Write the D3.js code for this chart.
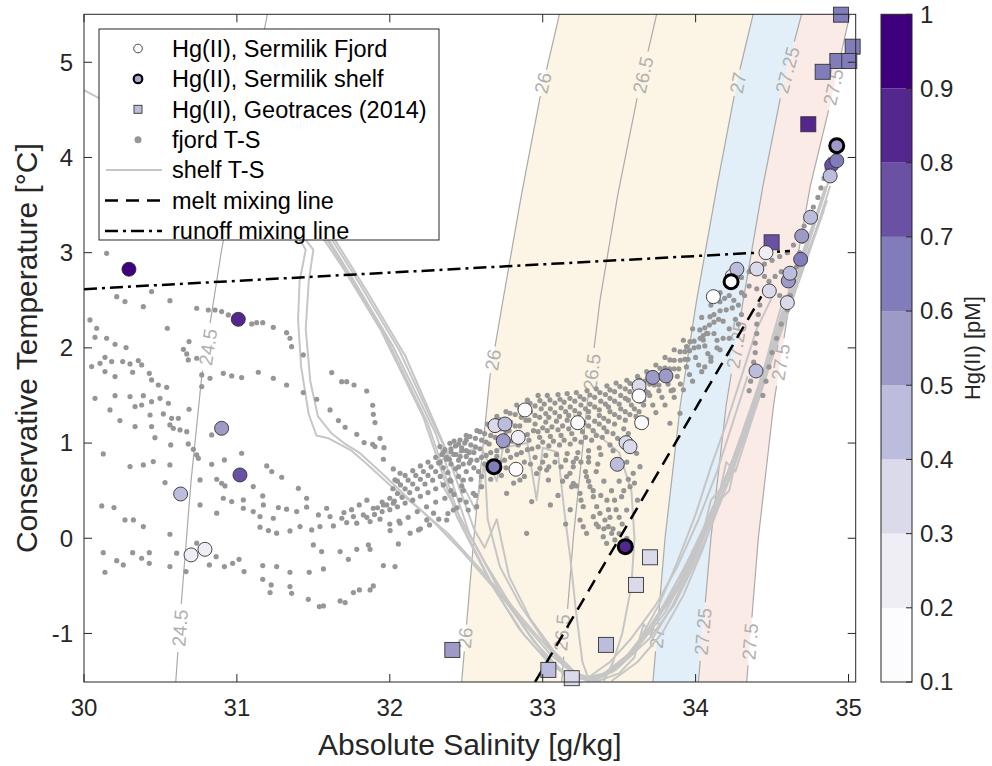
<!DOCTYPE html>
<html>
<head>
<meta charset="utf-8">
<script src="https://cdn.jsdelivr.net/npm/d3@7"></script>
<style>
  body { margin: 0; background: #fff; }
  svg { font-family: Helvetica, "Liberation Sans", Arial, sans-serif; }
</style>
</head>
<body>
<svg id="chart" width="992" height="766"></svg>
<script>
// ---- axis ticks ----
const xTicks = [30, 31, 32, 33, 34, 35];
const yTicks = [-1, 0, 1, 2, 3, 4, 5];
const cTicks = [0.1, 0.2, 0.3, 0.4, 0.5, 0.6, 0.7, 0.8, 0.9, 1];

// ---- sigma0 isopycnals, [S, T] ----
const iso245 = [[30.60,-1.51],[30.64,-0.61],[30.70,0.60],[30.77,1.70],[30.90,3.03],[31.05,4.30],[31.20,5.51]];
const iso26 = [[32.47,-1.51],[32.555,0.10],[32.655,1.70],[32.74,2.50],[32.86,3.60],[32.98,4.61],[33.11,5.51]];
const iso265 = [[33.124,-1.51],[33.20,0.00],[33.29,1.40],[33.375,2.505],[33.49,3.60],[33.615,4.606],[33.746,5.51]];
const iso27 = [[33.721,-1.51],[33.80,0.00],[33.90,1.40],[34.007,2.505],[34.14,3.70],[34.269,4.785],[34.377,5.51]];
const iso2725 = [[34.018,-1.51],[34.10,0.00],[34.20,1.40],[34.312,2.505],[34.44,3.70],[34.574,4.785],[34.694,5.51]];
const iso275 = [[34.334,-1.51],[34.41,0.00],[34.51,1.40],[34.617,2.505],[34.75,3.70],[34.866,4.47],[35.01,5.51]];

const isoNames = ['24.5', '26', '26.5', '27', '27.25', '27.5'];
const isoLines = [iso245, iso26, iso265, iso27, iso2725, iso275];
// label anchor points (S, T) per isopycnal
const isoLabels = [
  [[30.811, 2.009], [30.628, -0.943]],
  [[33.002, 4.783], [32.675, 1.873], [32.492, -1.047]],
  [[33.656, 4.867], [33.322, 1.747], [33.126, -0.990]],
  [[34.277, 4.783], [33.748, -1.047]],
  [[34.600, 4.919], [34.268, 2.030], [34.048, -0.980]],
  [[34.901, 4.741], [34.556, 1.852], [34.356, -1.085]]
];

// ---- mixing lines ----
const meltLine = [[32.95, -1.51], [34.43, 2.54]];
const runoffLine = [[30.0, 2.617], [34.617, 3.018]];

// ---- shelf CTD profiles [S, T] ----
const shelfA = [[29.95,4.75],[30.30,4.45],[30.70,4.10],[31.10,3.70],[31.35,3.30],[31.45,3.03],[31.41,2.70],[31.40,2.30],[31.42,1.80],[31.47,1.30],[31.52,1.08],[31.60,1.05],[31.75,0.92],[31.85,0.78],[32.00,0.56],[32.20,0.30],[32.38,0.05],[32.55,-0.25],[32.75,-0.62],[32.95,-1.00],[33.12,-1.30],[33.25,-1.47],[33.40,-1.45],[33.55,-1.25],[33.72,-0.90],[33.90,-0.40],[34.08,0.20],[34.25,0.85],[34.40,1.50],[34.53,2.05],[34.64,2.60],[34.76,3.10],[34.88,3.70]];
const shelfB = [[30.10,4.62],[30.50,4.30],[30.95,3.88],[31.30,3.45],[31.50,3.03],[31.47,2.70],[31.45,2.20],[31.48,1.65],[31.53,1.28],[31.62,1.10],[31.70,1.00],[31.80,0.90],[31.95,0.68],[32.12,0.42],[32.30,0.15],[32.48,-0.15],[32.68,-0.52],[32.88,-0.90],[33.05,-1.22],[33.20,-1.42],[33.33,-1.50],[33.48,-1.38],[33.63,-1.10],[33.80,-0.68],[33.98,-0.15],[34.15,0.45],[34.32,1.10],[34.47,1.75],[34.60,2.35],[34.72,2.90],[34.84,3.45]];
const shelfC = [[30.95,4.30],[31.35,3.66],[31.69,2.85],[31.94,2.19],[32.22,1.27],[32.44,0.22],[32.66,-0.47],[32.85,-0.96],[33.05,-1.33],[33.21,-1.47],[33.38,-1.44],[33.54,-1.28],[33.70,-0.96],[33.87,-0.54],[34.03,-0.02],[34.19,0.61],[34.32,1.14],[34.45,1.77],[34.59,2.40],[34.72,3.03],[34.85,3.66]];
const shelfD = [[31.02,4.25],[31.40,3.62],[31.72,2.80],[31.98,2.10],[32.25,1.20],[32.47,0.15],[32.69,-0.55],[32.88,-1.02],[33.08,-1.36],[33.24,-1.48],[33.40,-1.42],[33.56,-1.22],[33.73,-0.88],[33.90,-0.45],[34.06,0.08],[34.22,0.70],[34.35,1.25],[34.48,1.85],[34.60,2.45],[34.72,3.05],[34.85,3.70]];
const shelfE = [[31.08,4.32],[31.44,3.55],[31.76,2.72],[32.02,2.02],[32.30,1.10],[32.52,0.05],[32.74,-0.62],[32.94,-1.08],[33.13,-1.40],[33.30,-1.50],[33.46,-1.40],[33.62,-1.15],[33.80,-0.78],[33.96,-0.30],[34.12,0.25],[34.27,0.85],[34.40,1.40],[34.52,2.00],[34.63,2.60],[34.75,3.15],[34.88,3.80]];
const shelfF = [[31.12,4.20],[31.48,3.50],[31.80,2.68],[32.06,1.98],[32.33,1.05],[32.48,0.55],[32.56,0.30],[32.62,0.80],[32.64,0.20],[32.72,-0.30],[32.86,-0.72],[33.02,-1.10],[33.18,-1.40],[33.34,-1.48],[33.52,-1.30],[33.70,-0.95],[33.88,-0.55],[34.04,0.00],[34.10,0.40],[34.18,0.55],[34.28,1.00],[34.40,1.55],[34.52,2.15],[34.64,2.75],[34.78,3.35]];
const shelfG = [[31.15,4.10],[31.52,3.45],[31.84,2.62],[32.10,1.92],[32.35,1.00],[32.55,0.10],[32.62,-0.10],[32.70,0.20],[32.78,-0.40],[32.92,-0.85],[33.08,-1.20],[33.22,-1.42],[33.36,-1.50],[33.50,-1.42],[33.60,-1.25],[33.66,-0.90],[33.72,-1.05],[33.85,-0.70],[34.00,-0.20],[34.14,0.35],[34.20,0.80],[34.26,0.70],[34.36,1.20],[34.48,1.80],[34.60,2.40],[34.72,2.95],[34.86,3.55]];
const shelfH = [[32.30,0.80],[32.45,0.90],[32.60,0.95],[32.70,0.60],[32.74,0.95],[32.90,1.00],[32.96,0.40],[33.00,0.95],[33.10,0.90],[33.14,0.30],[33.18,-0.20],[33.22,-0.80],[33.26,-1.30],[33.30,-1.48],[33.40,-1.45],[33.52,-1.30],[33.64,-1.05],[33.76,-0.70],[33.88,-0.25],[34.00,0.25],[34.10,0.75],[34.20,1.20],[34.30,1.70],[34.40,2.20],[34.52,2.60]];
const shelfI = [[33.20,1.30],[33.35,1.10],[33.50,0.90],[33.58,0.50],[33.60,0.00],[33.58,-0.50],[33.52,-1.00],[33.46,-1.30],[33.40,-1.50]];
const shelfJ = [[33.45,-1.50],[33.62,-1.30],[33.78,-1.00],[33.92,-0.60],[34.05,-0.10],[34.16,0.40],[34.22,0.50],[34.28,0.95],[34.38,1.40],[34.46,1.80],[34.56,2.30],[34.66,2.80]];
const shelfK = [[33.30,-1.50],[33.50,-1.35],[33.70,-1.05],[33.86,-0.70],[34.00,-0.25],[34.12,0.20],[34.24,0.70],[34.34,1.15],[34.42,1.60],[34.50,2.10],[34.58,2.55]];
const shelfL = [[32.33,0.60],[32.40,0.40],[32.50,0.10],[32.62,-0.25],[32.76,-0.62],[32.90,-0.98],[33.04,-1.28],[33.16,-1.46],[33.30,-1.46],[33.44,-1.30],[33.58,-1.05],[33.74,-0.70],[33.88,-0.30],[34.02,0.20],[34.14,0.70],[34.24,1.20],[34.34,1.70]];
const shelfProfiles = [shelfA, shelfB, shelfC, shelfD, shelfE, shelfF, shelfG, shelfH, shelfI, shelfJ, shelfK, shelfL];

// ---- fjord CTD points [S, T] ----
const fjordLeft = [[30.148,2.993],[30.214,2.538],[30.268,2.486],[30.388,2.433],[30.442,2.591],[30.562,2.496],[30.737,2.416],[30.813,2.398],[30.857,2.398],[30.900,2.381],[30.944,2.346],[31.097,2.251],[31.129,2.265],[31.169,2.265],[31.238,2.216],[31.325,2.160],[31.347,2.101],[31.358,2.013],[31.434,1.926],[30.039,2.293],[30.083,2.206],[30.072,2.111],[30.148,2.101],[30.203,2.038],[30.275,2.003],[30.545,2.206],[30.687,2.066],[30.650,1.985],[30.672,1.936],[30.682,1.873],[30.737,1.891],[30.137,1.901],[30.105,1.838],[30.181,1.856],[30.253,1.856],[30.301,1.831],[30.355,1.866],[30.377,1.821],[30.050,1.803],[30.137,1.751],[30.203,1.698],[30.318,1.744],[30.427,1.733],[30.442,1.663],[30.486,1.610],[30.541,1.586],[30.770,1.716],[30.824,1.681],[30.770,1.593],[30.911,1.733],[30.966,1.705],[31.031,1.688],[31.140,1.744],[31.238,1.681],[31.325,1.610],[31.434,1.530],[31.522,1.460],[31.620,1.740],[31.685,1.645],[31.718,1.645],[31.766,1.610],[31.849,1.547],[31.888,1.397],[31.892,1.302],[31.903,1.215],[31.936,1.050],[31.962,0.952],[31.958,0.830],[32.023,0.728],[32.034,0.613],[32.067,0.683],
  [30.072,1.470],[30.170,1.348],[30.203,1.498],[30.301,1.488],[30.388,1.498],[30.442,1.435],[30.497,1.470],[30.552,1.418],[30.334,1.383],[30.377,1.400],[30.432,1.295],[30.519,1.306],[30.573,1.260],[30.617,1.260],[30.235,1.236],[30.334,1.173],[30.442,1.173],[30.464,1.057],[30.562,1.190],[30.584,1.155],[30.628,1.138],[30.672,1.120],[30.687,1.355],[30.567,0.980],[30.682,0.991],[30.715,0.935],[30.737,0.875],[30.748,0.840],[30.126,0.886],[30.301,0.753],[30.388,0.770],[30.453,0.805],[30.562,0.770],[30.530,0.585],[30.759,0.613],[30.835,0.777],[30.918,0.823],[31.031,0.893],[30.868,0.620],[30.900,0.578],[30.922,0.550],[30.911,0.420],[30.966,0.385],[31.042,0.403],[31.107,0.543],[31.169,0.445],[31.042,0.315],[31.107,0.280],[31.151,0.228],[31.173,0.350],[31.238,0.210],[31.271,0.322],[31.325,0.305],[31.391,0.280],[31.402,0.525],[31.456,0.420],[31.456,0.326],[31.533,0.245],[31.587,0.315],[31.609,0.228],[31.686,0.210],[31.762,0.228],[31.827,0.245],[31.892,0.315],[31.958,0.350],[32.023,0.368],[31.195,0.760],[31.228,0.700],[31.293,0.641],
  [31.151,0.116],[31.206,0.081],[31.260,0.053],[31.347,0.077],[31.413,0.123],[31.489,0.088],[31.543,0.123],[31.631,0.130],[31.718,0.165],[31.784,0.158],[31.871,0.175],[31.936,0.200],[32.002,0.081],[32.067,0.158],[32.133,0.053],[32.188,0.088],[32.242,0.193],[32.286,0.263],[30.868,0.263],[30.759,0.350],[30.562,0.042],[30.268,0.193],[30.323,0.193],[30.388,0.123],[30.116,0.340],[30.196,0.322],[30.126,-0.151],[30.214,-0.235],[30.257,-0.280],[30.318,-0.151],[30.377,-0.210],[30.427,-0.151],[30.427,-0.263],[30.137,-0.357],[30.562,-0.298],[30.606,-0.157],[30.667,-0.350],[30.737,-0.052],[30.820,-0.280],[30.864,-0.193],[30.918,-0.298],[30.972,-0.263],[31.014,-0.221],[31.047,-0.350],[31.169,-0.287],[31.260,-0.298],[31.347,-0.357],[31.473,-0.357],[31.566,-0.322],[31.169,-0.431],[31.224,-0.490],[31.217,-0.571],[31.347,-0.508],[31.358,-0.578],[31.467,-0.641],[31.539,-0.718],[31.566,-0.711],[31.675,-0.658],[31.708,-0.676],[31.762,-0.571],[31.801,-0.543],[31.871,-0.543],[31.892,-0.501],[31.500,-0.070],[31.554,-0.140],[31.675,-0.140],[31.729,-0.221],[31.784,-0.116],[31.860,-0.070],[31.871,-0.116],[31.958,-0.287],[32.034,-0.298],[32.056,-0.060],[30.835,1.085],[31.609,1.348],[31.664,1.236],[31.708,1.166],[31.784,1.092],[31.832,1.005],[31.888,0.987],[31.903,0.963]];
const fjordBand = [[32.328,0.963],[32.393,0.998],[32.459,1.032],[32.524,1.068],[32.590,1.120],[32.655,1.173],[32.720,1.243],[32.786,1.313],[32.851,1.365],[32.917,1.418],[32.982,1.446],[33.047,1.453],[33.113,1.460],[33.178,1.470],[33.244,1.488],[33.309,1.505],[33.374,1.530],[33.440,1.558],[33.505,1.593],[33.571,1.628],[33.636,1.663],[33.701,1.715],[33.767,1.785],[33.832,1.873],[33.898,1.960],[33.963,2.065],[34.028,2.188],[34.094,2.328],[34.159,2.485],[34.225,2.643],
  [32.34,0.88],[32.40,0.91],[32.47,0.95],[32.53,0.98],[32.60,1.03],[32.66,1.08],[32.73,1.15],[32.79,1.22],[32.86,1.27],[32.92,1.33],[32.99,1.36],[33.05,1.36],[33.12,1.37],[33.18,1.38],[33.25,1.40],[33.31,1.41],[33.38,1.44],[33.44,1.47],[33.51,1.50],[33.57,1.54],[33.64,1.57],[33.70,1.62],[33.77,1.70],[33.83,1.78],[33.90,1.87],[33.96,1.97],[34.03,2.10],[34.09,2.24],[34.16,2.39],[34.22,2.55],
  [32.33,0.80],[32.39,0.83],[32.46,0.86],[32.52,0.90],[32.59,0.94],[32.65,0.99],[32.72,1.06],[32.78,1.13],[32.85,1.18],[32.91,1.24],[32.98,1.27],[33.04,1.27],[33.11,1.28],[33.17,1.29],[33.24,1.31],[33.30,1.33],[33.37,1.35],[33.43,1.38],[33.50,1.41],[33.56,1.45],[33.63,1.48],[33.69,1.53],[33.76,1.61],[33.82,1.69],[33.89,1.78],[33.95,1.88],[34.02,2.01],[34.08,2.15],[34.15,2.30],
  [32.60,0.85],[32.66,0.90],[32.73,0.96],[32.80,1.02],[32.87,1.08],[32.94,1.13],[33.00,1.16],[33.06,1.17],[33.13,1.18],[33.20,1.19],[33.27,1.21],[33.34,1.23],[33.40,1.26],[33.47,1.30],[33.54,1.33],[33.60,1.36],[33.66,1.40],
  [32.62,0.78],[32.70,0.86],[32.77,0.92],[32.84,0.98],[32.91,1.03],[32.98,1.06],[33.05,1.07],[33.12,1.08],[33.19,1.10],[33.26,1.12],[33.33,1.13],[33.40,1.16],[33.47,1.20],[33.54,1.24],[33.61,1.28],
  [32.75,0.82],[32.83,0.88],[32.90,0.93],[32.97,0.96],[33.04,0.97],[33.11,0.98],[33.18,0.99],[33.25,1.01],[33.32,1.03],[33.39,1.06],[33.46,1.10],[33.53,1.15],
  [32.80,0.75],[32.88,0.80],[32.95,0.85],[33.02,0.87],[33.09,0.88],[33.16,0.89],[33.23,0.90],[33.30,0.92],[33.37,0.95],[33.44,0.98],
  [32.851,0.612],[32.928,0.385],[32.982,0.735],[33.037,0.612],[33.026,0.717],[33.178,0.682],[33.189,0.542],[32.895,0.052],[33.244,0.192],[33.265,0.122],[33.287,0.052],[32.764,0.472],[32.600,0.542],[32.568,0.332],[32.513,0.297],[32.459,0.402],[32.415,0.297],[32.372,0.192],[32.393,0.612],[32.481,0.612],[32.546,0.472],
  [31.85,0.22],[31.90,0.25],[31.95,0.28],[32.00,0.30],[32.05,0.33],[32.10,0.37],[32.15,0.40],[32.20,0.44],[32.25,0.48],[32.30,0.52],[32.35,0.56],[32.40,0.60],[32.45,0.65],[32.50,0.70],[32.55,0.74],
  [31.95,0.38],[32.00,0.42],[32.05,0.47],[32.10,0.52],[32.15,0.57],[32.20,0.62],[32.25,0.66],[32.30,0.70],[32.35,0.74],[32.40,0.78],[32.45,0.82],[32.50,0.86],[32.55,0.90],
  [32.05,0.60],[32.10,0.66],[32.15,0.71],[32.20,0.76],[32.25,0.80],[32.30,0.85],[32.35,0.90],[32.40,0.94],[32.45,0.99],[32.50,1.03],
  [32.00,0.15],[32.06,0.18],[32.12,0.22],[32.18,0.28],[32.24,0.33],[32.30,0.38],[32.36,0.42],[32.42,0.46],[32.48,0.50],
  [32.20,0.10],[32.26,0.14],[32.32,0.20],[32.38,0.26],[32.44,0.32],[32.50,0.38],[32.56,0.45],[31.80,0.35],[31.85,0.40],[31.75,0.30],[31.70,0.27]];
const fjordBand2 = [[32.36,0.93],[32.43,0.97],[32.49,1.00],[32.56,1.05],[32.62,1.10],[32.69,1.17],[32.75,1.24],[32.82,1.30],[32.88,1.35],[32.95,1.39],[33.01,1.41],[33.08,1.42],[33.14,1.43],[33.21,1.44],[33.27,1.46],[33.34,1.48],[33.41,1.51],[33.47,1.54],[33.54,1.57],[33.60,1.61],[33.67,1.65],[33.73,1.71],[33.80,1.79],[33.86,1.87],[33.93,1.96],[33.99,2.07],[34.06,2.21],[34.12,2.35],[34.19,2.52],
  [32.37,0.85],[32.43,0.88],[32.50,0.92],[32.56,0.96],[32.63,1.01],[32.69,1.06],[32.76,1.12],[32.82,1.18],[32.89,1.24],[32.95,1.29],[33.02,1.31],[33.08,1.32],[33.15,1.33],[33.21,1.34],[33.28,1.36],[33.34,1.38],[33.41,1.41],[33.47,1.44],[33.54,1.47],[33.60,1.51],[33.67,1.55],[33.73,1.61],[33.80,1.69],[33.86,1.78],[33.93,1.88],[33.99,2.00],[34.05,2.13],[34.12,2.27],
  [32.57,0.82],[32.63,0.87],[32.70,0.92],[32.77,0.98],[32.84,1.04],[32.90,1.09],[32.97,1.12],[33.03,1.13],[33.10,1.14],[33.17,1.15],[33.23,1.17],[33.30,1.18],[33.37,1.20],[33.43,1.23],[33.50,1.27],[33.57,1.30],[33.63,1.33],
  [32.68,0.70],[32.76,0.74],[32.84,0.72],[32.92,0.78],[33.00,0.80],[33.08,0.80],[33.15,0.82],[33.22,0.84],[33.30,0.80],[33.38,0.88],[33.46,0.92],
  [33.70,1.50],[33.76,1.55],[33.82,1.62],[33.88,1.70],[33.94,1.80],[34.00,1.90],[34.06,2.02],[34.12,2.15],[34.18,2.28],[34.24,2.42],[34.30,2.58],[33.66,1.45],[33.72,1.40],[33.78,1.48],[33.84,1.55],[33.90,1.62],[33.96,1.72],[34.02,1.82],[34.08,1.94],[34.14,2.08],
  [31.92,0.32],[31.98,0.35],[32.03,0.39],[32.08,0.43],[32.13,0.48],[32.18,0.52],[32.23,0.57],[32.28,0.61],[32.33,0.65],[32.38,0.69],[32.43,0.73],[32.48,0.78],[32.53,0.82],
  [32.02,0.52],[32.07,0.56],[32.12,0.61],[32.17,0.66],[32.22,0.70],[32.27,0.75],[32.32,0.79],[32.37,0.83],[32.42,0.88],[32.47,0.92]];
const fjordBand3 = [[32.42,1.02],[32.50,1.08],[32.57,1.13],[32.64,1.20],[32.70,1.28],[32.76,1.33],[32.83,1.40],[32.90,1.45],[32.97,1.50],[33.03,1.50],[33.10,1.51],[33.16,1.52],[33.22,1.53],[33.29,1.55],[33.35,1.57],[33.42,1.60],[33.48,1.63],[33.55,1.66],[33.62,1.70],[33.68,1.75],[33.74,1.82],[33.80,1.90],[33.86,1.98],[33.92,2.08],[33.98,2.20],[34.04,2.32],[34.10,2.45],[34.16,2.58],[34.20,2.70],
  [32.45,0.75],[32.52,0.79],[32.58,0.70],[32.65,0.72],[32.72,0.80],[32.79,0.85],[32.86,0.90],[32.93,0.94],[33.00,1.01],[33.07,1.02],[33.14,1.03],[33.21,1.04],[33.28,1.06],[33.35,1.08],[33.42,1.12],[33.49,1.05],[33.56,1.10],[33.62,1.18],[33.68,1.25],[33.74,1.32],[33.80,1.40],[33.86,1.48],[33.92,1.56],[33.98,1.65],[34.04,1.75],[34.10,1.86],[34.16,1.98],[34.22,2.10],[34.28,2.25],
  [32.95,1.20],[33.02,1.22],[33.09,1.23],[33.16,1.24],[33.23,1.25],[33.30,1.27],[33.37,1.29],[33.44,1.33],[33.51,1.36],[33.58,1.40],[33.64,1.44],
  [32.40,0.50],[32.47,0.55],[32.53,0.62],[32.60,0.65],[32.66,0.62],[32.73,0.66],[32.81,0.58],[32.88,0.65],[32.96,0.68],[33.04,0.75],[33.12,0.75],[33.20,0.80],[33.28,0.70],[33.36,0.78],
  [33.13,0.60],[33.10,0.45],[33.05,0.35],[33.22,0.55],[33.25,0.40],[33.30,0.60],[33.33,0.50],[33.18,0.30],[33.15,0.15],[33.35,0.15],[33.40,0.10],[33.43,0.30],[33.47,0.40],[33.53,0.50],[33.56,0.62],[33.60,0.58],[33.62,0.40],[33.50,0.22],[33.46,0.10],[33.52,-0.05],[33.55,0.00]];
const fjordLobe = [[33.287,0.648],[33.309,0.542],[33.331,0.437],[33.353,0.332],[33.374,0.262],[33.407,0.192],[33.429,0.122],[33.451,0.052],[33.472,-0.018],[33.418,-0.053],[33.396,0.017],[33.364,0.122],[33.331,0.227],[33.265,0.332],[33.244,0.472],[33.200,0.577],[33.156,0.648],[33.516,0.437],[33.549,0.297],[33.571,0.542],[33.592,0.682],[33.636,0.752],[33.614,0.892],[33.35,0.70],[33.40,0.60],[33.45,0.50],[33.50,0.60],[33.42,0.40],[33.48,0.30],[33.52,0.15],[33.50,0.05],[33.38,0.45],[33.44,0.22],[33.55,0.80],[33.58,0.95],[33.30,0.85],[33.25,0.80],[33.20,0.75]];
const fjordRight = [[34.25,2.68],[34.30,2.74],[34.35,2.80],[34.40,2.85],[34.45,2.88],[34.50,2.92],[34.55,2.96],[34.60,3.00],[34.64,3.08],[34.68,3.18],[34.71,3.28],[34.74,3.38],[34.77,3.48],[34.80,3.58],[34.82,3.68],[34.84,3.78],[34.86,3.88],[34.88,3.98],
  [34.60,2.40],[34.62,2.55],[34.64,2.70],[34.66,2.85],[34.68,3.00],[34.70,3.12],[34.56,2.25],[34.53,2.10],[34.50,1.95],[34.48,1.80],[34.46,1.65],[34.44,1.50],
  [34.42,2.45],[34.41,2.35],[34.40,2.25],[34.40,2.15],[34.39,2.05],[34.39,1.95],[34.38,1.85],[34.37,1.75],[34.36,1.65],[34.35,1.55],
  [34.35,2.65],[34.40,2.62],[34.45,2.60],[34.50,2.58],[34.55,2.55],[34.48,2.70],[34.52,2.75],[34.56,2.80],[34.45,2.75],
  [34.20,2.40],[34.25,2.50],[34.28,2.45],[34.32,2.55],[34.30,2.35],[34.26,2.30],[34.22,2.20],[34.18,2.10],[34.14,2.00],[34.10,1.90],[34.06,1.80],
  [33.854,1.558],[33.832,1.208],[33.898,1.313],[33.941,2.013],[34.050,2.083],[34.072,2.153]];

// ---- Hg(II) samples [S, T, Hg pM] ----
const hgFjord = [[30.294,2.826,0.95],[31.009,2.300,0.85],[30.900,1.155,0.55],[31.020,0.665,0.75],[30.632,0.465,0.45],[30.791,-0.116,0.25],[30.700,-0.175,0.25],
  [32.688,1.183,0.35],[32.753,1.200,0.45],[32.742,1.025,0.55],[32.840,1.060,0.30],[32.884,1.348,0.15],[32.825,0.725,0.15],[33.229,1.214,0.15],
  [33.630,1.600,0.35],[33.630,1.495,0.15],[33.720,1.690,0.55],[33.806,1.705,0.55],[33.647,1.214,0.15],[33.545,1.004,0.35],[33.571,0.962,0.35],[33.488,0.777,0.45],
  [34.116,2.538,0.15],[34.240,2.755,0.20],[34.270,2.826,0.45],[34.400,2.829,0.35],[34.460,3.000,0.30],[34.482,2.598,0.35],[34.600,2.475,0.35],[34.606,2.703,0.55],
  [34.617,2.784,0.45],[34.687,2.930,0.65],[34.694,3.175,0.55],[34.752,3.372,0.45],[34.395,1.757,0.45],[34.890,3.920,0.75],[34.923,3.966,0.65],[34.880,3.806,0.45]];
const hgShelf = [[32.681,0.752,0.65],[33.540,-0.088,0.85],[34.232,2.695,0.15],[34.923,4.124,0.55]];
const hgGeotraces = [[34.951,5.500,0.65],[35.027,5.164,0.65],[34.927,5.014,0.65],[35.005,5.014,0.65],[34.831,4.900,0.65],[34.737,4.349,0.85],[34.497,3.109,0.75],
  [33.702,-0.200,0.35],[33.610,-0.490,0.35],[33.414,-1.120,0.45],[33.037,-1.383,0.45],[33.190,-1.470,0.35],[32.409,-1.173,0.55]];

const legendItems = ['Hg(II), Sermilik Fjord', 'Hg(II), Sermilik shelf', 'Hg(II), Geotraces (2014)',
  'fjord T-S', 'shelf T-S', 'melt mixing line', 'runoff mixing line'];

// ---- layout ----
const plot = { left: 84, top: 14.3, right: 855.7, bottom: 682 };
const cbar = { left: 881, right: 912 };
const ink = '#262626';

const svg = d3.select('#chart');
const x = d3.scaleLinear().domain([30, 35.047]).range([plot.left, plot.right]);
const y = d3.scaleLinear().domain([-1.51, 5.504]).range([plot.bottom, plot.top]);
const cy = d3.scaleLinear().domain([0.1, 1]).range([plot.bottom, plot.top]);
const hgColor = d3.scaleQuantize().domain([0.1, 1]).range(d3.schemePurples[9]);

const line = d3.line().x(d => x(d[0])).y(d => y(d[1]));

svg.append('defs').append('clipPath').attr('id', 'plotClip')
  .append('rect')
  .attr('x', plot.left).attr('y', plot.top)
  .attr('width', plot.right - plot.left).attr('height', plot.bottom - plot.top);

const inner = svg.append('g').attr('clip-path', 'url(#plotClip)');

// density bands
const bands = [
  { a: iso26, b: iso27, fill: '#fcf5e5' },
  { a: iso27, b: iso2725, fill: '#e2eff8' },
  { a: iso2725, b: iso275, fill: '#fbebe6' }
];
bands.forEach(bd => {
  inner.append('path')
    .attr('d', line(bd.a.concat(bd.b.slice().reverse())) + 'Z')
    .attr('fill', bd.fill);
});

// where along a contour does a label sit, and at what angle
function labelAngle(pts, t) {
  let i = 0;
  while (i < pts.length - 2 && pts[i + 1][1] < t) i++;
  const dx = x(pts[i + 1][0]) - x(pts[i][0]);
  const dy = y(pts[i + 1][1]) - y(pts[i][1]);
  return Math.atan2(dy, dx) * 180 / Math.PI;
}

// mask to cut gaps in the contour lines under the labels
const mask = svg.select('defs').append('mask').attr('id', 'labelGaps')
  .attr('maskUnits', 'userSpaceOnUse')
  .attr('x', 0).attr('y', 0).attr('width', 992).attr('height', 766);
mask.append('rect').attr('width', 992).attr('height', 766).attr('fill', '#fff');

const labelData = [];
isoLabels.forEach((set, k) => {
  set.forEach(p => {
    labelData.push({ name: isoNames[k], s: p[0], t: p[1], angle: labelAngle(isoLines[k], p[1]) });
  });
});
labelData.forEach(d => {
  const w = d.name.length * 10.5 + 6;
  mask.append('rect')
    .attr('x', -w / 2).attr('y', -8).attr('width', w).attr('height', 16)
    .attr('fill', '#000')
    .attr('transform', `translate(${x(d.s)},${y(d.t)}) rotate(${d.angle})`);
});

const contourG = inner.append('g').attr('mask', 'url(#labelGaps)');
isoLines.forEach(pts => {
  contourG.append('path')
    .attr('d', line(pts))
    .attr('fill', 'none')
    .attr('stroke', '#aaaaaa')
    .attr('stroke-width', 1.2);
});

inner.append('g').selectAll('text')
  .data(labelData)
  .enter().append('text')
  .attr('transform', d => `translate(${x(d.s)},${y(d.t)}) rotate(${d.angle})`)
  .attr('text-anchor', 'middle')
  .attr('dy', '0.35em')
  .attr('font-size', 19)
  .attr('fill', '#b0b0b0')
  .text(d => d.name);

// shelf T-S
inner.append('g').selectAll('path')
  .data(shelfProfiles)
  .enter().append('path')
  .attr('d', line)
  .attr('fill', 'none')
  .attr('stroke', '#c6c6c6')
  .attr('stroke-width', 2)
  .attr('stroke-linejoin', 'round');

// fjord T-S dots
const fjordDots = fjordLeft.concat(fjordBand, fjordBand2, fjordBand3, fjordLobe, fjordRight);
inner.append('g').selectAll('circle')
  .data(fjordDots)
  .enter().append('circle')
  .attr('cx', d => x(d[0]))
  .attr('cy', d => y(d[1]))
  .attr('r', 2.6)
  .attr('fill', '#969696');

// mixing lines
inner.append('path')
  .attr('d', line(meltLine))
  .attr('fill', 'none')
  .attr('stroke', '#000')
  .attr('stroke-width', 2.5)
  .attr('stroke-dasharray', '13 8');
inner.append('path')
  .attr('d', line(runoffLine))
  .attr('fill', 'none')
  .attr('stroke', '#000')
  .attr('stroke-width', 2.5)
  .attr('stroke-dasharray', '13 5 3 5');

// Hg markers (not clipped, like MATLAB)
const marks = svg.append('g');
marks.selectAll('rect.geo')
  .data(hgGeotraces)
  .enter().append('rect')
  .attr('class', 'geo')
  .attr('x', d => x(d[0]) - 7.5)
  .attr('y', d => y(d[1]) - 7.5)
  .attr('width', 15).attr('height', 15)
  .attr('fill', d => hgColor(d[2]))
  .attr('stroke', '#333')
  .attr('stroke-width', 0.9);
marks.selectAll('circle.fjord')
  .data(hgFjord)
  .enter().append('circle')
  .attr('class', 'fjord')
  .attr('cx', d => x(d[0]))
  .attr('cy', d => y(d[1]))
  .attr('r', 7)
  .attr('fill', d => hgColor(d[2]))
  .attr('stroke', '#333')
  .attr('stroke-width', 0.9);
marks.selectAll('circle.shelf')
  .data(hgShelf)
  .enter().append('circle')
  .attr('class', 'shelf')
  .attr('cx', d => x(d[0]))
  .attr('cy', d => y(d[1]))
  .attr('r', 7)
  .attr('fill', d => hgColor(d[2]))
  .attr('stroke', '#000')
  .attr('stroke-width', 3);

// axes box and ticks (all four sides, pointing in)
const axisG = svg.append('g').attr('stroke', ink).attr('stroke-width', 1);
axisG.append('rect')
  .attr('x', plot.left).attr('y', plot.top)
  .attr('width', plot.right - plot.left).attr('height', plot.bottom - plot.top)
  .attr('fill', 'none');
xTicks.forEach(v => {
  axisG.append('line').attr('x1', x(v)).attr('x2', x(v)).attr('y1', plot.bottom).attr('y2', plot.bottom - 8);
  axisG.append('line').attr('x1', x(v)).attr('x2', x(v)).attr('y1', plot.top).attr('y2', plot.top + 8);
});
yTicks.forEach(v => {
  axisG.append('line').attr('y1', y(v)).attr('y2', y(v)).attr('x1', plot.left).attr('x2', plot.left + 8);
  axisG.append('line').attr('y1', y(v)).attr('y2', y(v)).attr('x1', plot.right).attr('x2', plot.right - 8);
});

svg.append('g').selectAll('text')
  .data(xTicks)
  .enter().append('text')
  .attr('x', d => x(d))
  .attr('y', 716)
  .attr('text-anchor', 'middle')
  .attr('font-size', 24)
  .attr('fill', ink)
  .text(d => d);
svg.append('g').selectAll('text')
  .data(yTicks)
  .enter().append('text')
  .attr('x', 73)
  .attr('y', d => y(d))
  .attr('dy', '0.35em')
  .attr('text-anchor', 'end')
  .attr('font-size', 24)
  .attr('fill', ink)
  .text(d => d);

svg.append('text')
  .attr('x', (plot.left + plot.right) / 2)
  .attr('y', 755)
  .attr('text-anchor', 'middle')
  .attr('font-size', 30)
  .attr('fill', ink)
  .text('Absolute Salinity [g/kg]');
svg.append('text')
  .attr('transform', `translate(37,${(plot.top + plot.bottom) / 2}) rotate(-90)`)
  .attr('text-anchor', 'middle')
  .attr('font-size', 30)
  .attr('fill', ink)
  .text('Conservative Temperature [°C]');

// colorbar
const levels = d3.range(9);
svg.append('g').selectAll('rect')
  .data(levels)
  .enter().append('rect')
  .attr('x', cbar.left)
  .attr('y', i => cy(cTicks[i + 1]))
  .attr('width', cbar.right - cbar.left)
  .attr('height', i => cy(cTicks[i]) - cy(cTicks[i + 1]))
  .attr('fill', i => d3.schemePurples[9][i]);
svg.append('rect')
  .attr('x', cbar.left).attr('y', plot.top)
  .attr('width', cbar.right - cbar.left).attr('height', plot.bottom - plot.top)
  .attr('fill', 'none').attr('stroke', ink).attr('stroke-width', 1);
cTicks.forEach(v => {
  svg.append('line')
    .attr('x1', cbar.right).attr('x2', cbar.right - 6)
    .attr('y1', cy(v)).attr('y2', cy(v))
    .attr('stroke', ink);
});
svg.append('g').selectAll('text')
  .data(cTicks)
  .enter().append('text')
  .attr('x', 920)
  .attr('y', d => cy(d))
  .attr('dy', '0.35em')
  .attr('font-size', 24)
  .attr('fill', ink)
  .text(d => d);
svg.append('text')
  .attr('transform', `translate(980,${(plot.top + plot.bottom) / 2}) rotate(-90)`)
  .attr('text-anchor', 'middle')
  .attr('font-size', 22)
  .attr('fill', ink)
  .text('Hg(II) [pM]');

// legend
const lg = svg.append('g');
lg.append('rect')
  .attr('x', 99).attr('y', 29)
  .attr('width', 340).attr('height', 211)
  .attr('fill', '#fff')
  .attr('stroke', ink)
  .attr('stroke-width', 1);
const rowY = i => 48.5 + i * 30.4;
lg.selectAll('text')
  .data(legendItems)
  .enter().append('text')
  .attr('x', 172)
  .attr('y', (d, i) => rowY(i))
  .attr('dy', '0.35em')
  .attr('font-size', 23.5)
  .attr('fill', '#000')
  .text(d => d);
lg.append('circle').attr('cx', 138).attr('cy', rowY(0)).attr('r', 4.3)
  .attr('fill', '#fff').attr('stroke', '#333').attr('stroke-width', 0.9);
lg.append('circle').attr('cx', 138).attr('cy', rowY(1)).attr('r', 4.3)
  .attr('fill', '#a9a7d3').attr('stroke', '#000').attr('stroke-width', 2.2);
lg.append('rect').attr('x', 134).attr('y', rowY(2) - 4).attr('width', 8).attr('height', 8)
  .attr('fill', '#bcbddc').attr('stroke', '#333').attr('stroke-width', 0.9);
lg.append('circle').attr('cx', 138).attr('cy', rowY(3)).attr('r', 3.5)
  .attr('fill', '#969696');
lg.append('line').attr('x1', 106).attr('x2', 162).attr('y1', rowY(4)).attr('y2', rowY(4))
  .attr('stroke', '#c6c6c6').attr('stroke-width', 2);
lg.append('line').attr('x1', 105).attr('x2', 162).attr('y1', rowY(5)).attr('y2', rowY(5))
  .attr('stroke', '#000').attr('stroke-width', 2.5).attr('stroke-dasharray', '13 8');
lg.append('line').attr('x1', 105).attr('x2', 162).attr('y1', rowY(6)).attr('y2', rowY(6))
  .attr('stroke', '#000').attr('stroke-width', 2.5).attr('stroke-dasharray', '13 5 3 5');
</script>
</body>
</html>
